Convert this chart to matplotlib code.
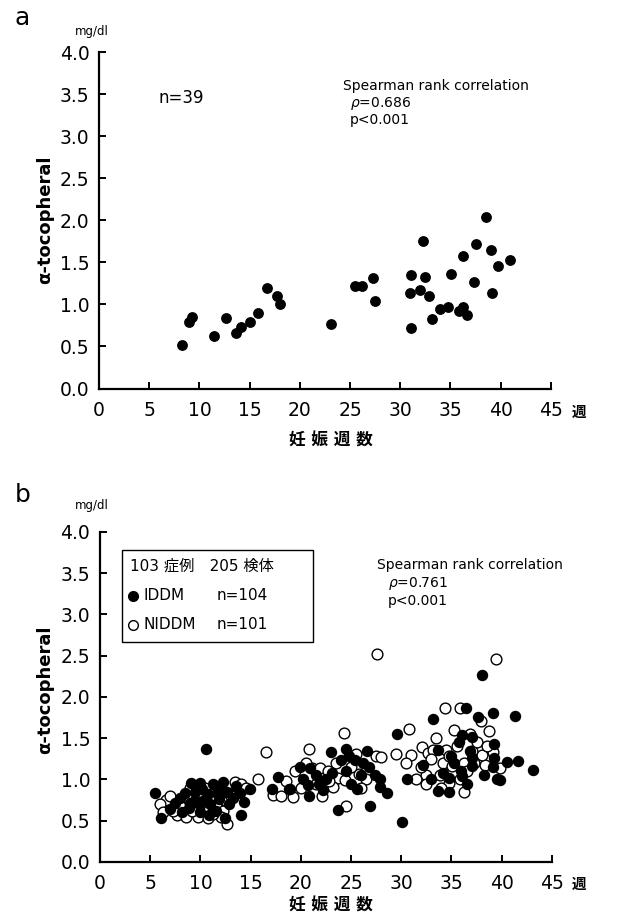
import matplotlib
matplotlib.use('Agg')
import matplotlib.pyplot as plt
from matplotlib.patches import Rectangle

plt.rcParams['font.family'] = ['DejaVu Sans', 'Noto Sans CJK JP']

# パネルa: 妊娠週数 vs α-tocopherol (n=39)
a_weeks = [8.3, 9.0, 9.3, 11.45, 12.6, 13.65, 14.1, 15.0, 15.8, 16.7, 17.7, 18.0,
           23.1, 25.5, 26.2, 27.3, 27.5, 31.1, 31.0, 31.1, 32.0, 32.3, 32.5, 32.9,
           33.2, 34.8, 35.1, 35.8, 36.2, 36.6, 36.2, 37.3, 37.5, 38.5, 39.0, 39.1,
           39.7, 40.9, 34.0]
a_vals = [0.52, 0.79, 0.85, 0.62, 0.84, 0.66, 0.73, 0.79, 0.90, 1.20, 1.10, 1.00,
          0.77, 1.22, 1.22, 1.31, 1.04, 0.72, 1.13, 1.35, 1.17, 1.75, 1.32, 1.10,
          0.83, 0.97, 1.36, 0.92, 0.97, 0.87, 1.58, 1.27, 1.72, 2.04, 1.65, 1.13,
          1.46, 1.53, 0.95]

# パネルb: IDDM (黒丸)
iddm_weeks = [10.6, 5.5, 6.1, 9.1, 9.95, 8.5, 7.0, 8.9, 9.95, 10.4, 11.3, 12.2,
              11.6, 12.6, 10.9, 12.4, 13.9, 14.3, 14.0, 14.9, 17.7, 17.1, 18.8, 9.45,
              7.5, 8.0, 9.5, 10.2, 10.8, 11.0, 11.8, 12.0, 13.2, 13.5, 8.2, 10.0,
              11.5, 12.8, 9.0,
              23.0, 24.5, 26.6, 26.9, 23.7, 28.6, 27.9, 27.4, 25.6, 26.0, 25.4, 26.2,
              24.0, 24.5, 23.1, 20.9, 19.9, 20.2, 20.7, 22.2, 20.8, 18.9, 27.9, 29.6,
              30.6, 30.1, 21.5, 22.5, 25.0, 26.8, 24.8, 21.8,
              38.0, 36.4, 37.6, 39.1, 41.3, 33.2, 35.7, 36.0, 37.0, 39.2, 33.7, 35.0,
              37.0, 39.2, 40.5, 41.6, 43.1, 32.2, 34.2, 35.9, 37.0, 39.1, 34.8, 36.0,
              39.5, 39.8, 33.7, 34.8, 35.3, 36.5, 38.2, 33.0, 36.8]
iddm_vals = [1.37, 0.83, 0.53, 0.96, 0.96, 0.83, 0.64, 0.65, 0.69, 0.75, 0.95, 0.97,
             0.83, 0.85, 0.57, 0.53, 0.83, 0.73, 0.57, 0.89, 1.03, 0.88, 0.89, 0.75,
             0.72, 0.78, 0.85, 0.88, 0.82, 0.70, 0.76, 0.90, 0.78, 0.92, 0.60, 0.60,
             0.62, 0.70, 0.72,
             1.33, 1.37, 1.34, 0.68, 0.63, 0.83, 0.91, 1.06, 0.89, 1.06, 1.24, 1.20,
             1.24, 1.10, 1.08, 1.14, 1.15, 1.00, 0.93, 0.87, 0.80, 0.89, 1.00, 1.55,
             1.00, 0.48, 1.05, 1.00, 0.95, 1.15, 1.28, 0.95,
             2.26, 1.87, 1.76, 1.80, 1.77, 1.73, 1.46, 1.54, 1.51, 1.43, 1.36, 1.28,
             1.26, 1.26, 1.21, 1.22, 1.12, 1.18, 1.08, 1.10, 1.16, 1.15, 1.02, 1.04,
             1.00, 0.99, 0.86, 0.85, 1.20, 0.95, 1.05, 1.00, 1.35]

# パネルb: NIDDM (白丸)
niddm_weeks = [16.5, 15.7, 17.2, 6.6, 7.6, 7.7, 8.6, 9.8, 10.8, 12.6, 13.4, 13.7,
               12.6, 11.6, 9.45, 10.3, 6.0, 7.0, 8.0, 8.8, 9.2, 10.5, 11.0, 11.8,
               12.2, 13.0, 14.0, 7.3, 10.0, 12.0, 14.5, 6.3, 9.0, 11.3,
               27.6, 24.3, 20.8, 25.5, 27.5, 28.0, 19.4, 21.1, 21.9, 22.7, 23.7, 24.4,
               25.8, 19.2, 22.1, 24.5, 23.2, 29.5, 30.8, 18.5, 20.0, 21.5, 22.8, 26.5,
               18.0, 20.5, 23.5, 25.0, 26.0,
               39.4, 34.4, 35.8, 32.1, 32.7, 35.3, 37.9, 38.7, 32.5, 32.5, 33.9, 34.8,
               36.2, 34.2, 35.1, 36.2, 37.0, 38.3, 39.1, 39.8, 33.2, 34.5, 31.0, 33.0,
               35.5, 36.5, 37.5, 38.0, 31.5, 34.0, 35.8, 37.2, 33.5, 36.8, 30.5, 38.5,
               34.8, 32.0]
niddm_vals = [1.33, 1.00, 0.81, 0.75, 0.73, 0.57, 0.54, 0.55, 0.53, 0.46, 0.97, 0.85,
              0.73, 0.65, 0.85, 0.65, 0.70, 0.80, 0.68, 0.78, 0.62, 0.90, 0.78, 0.88,
              0.62, 0.80, 0.95, 0.62, 0.80, 0.55, 0.90, 0.60, 0.90, 0.58,
              2.52, 1.56, 1.37, 1.31, 1.28, 1.27, 1.10, 1.14, 1.14, 1.10, 1.02, 0.99,
              1.07, 0.79, 0.80, 0.68, 0.91, 1.31, 1.61, 0.98, 0.90, 0.95, 0.98, 1.00,
              0.80, 1.20, 1.20, 1.15, 0.90,
              2.46, 1.87, 1.86, 1.39, 1.32, 1.60, 1.71, 1.59, 1.06, 0.94, 1.06, 0.96,
              0.85, 1.20, 1.16, 1.20, 1.34, 1.18, 1.33, 1.14, 1.36, 1.36, 1.30, 1.25,
              1.40, 1.10, 1.45, 1.30, 1.00, 0.90, 1.00, 1.20, 1.50, 1.55, 1.20, 1.40,
              1.28, 1.15]

x_ticks = [0, 5, 10, 15, 20, 25, 30, 35, 40, 45]
y_ticks = [0.0, 0.5, 1.0, 1.5, 2.0, 2.5, 3.0, 3.5, 4.0]


def setup_axes(ax):
    ax.set_xlim(0, 45)
    ax.set_ylim(0, 4.0)
    ax.set_xticks(x_ticks)
    ax.set_yticks(y_ticks)
    ax.set_yticklabels([f'{v:.1f}' for v in y_ticks])
    for s in ['top', 'right']:
        ax.spines[s].set_visible(False)
    for s in ['left', 'bottom']:
        ax.spines[s].set_linewidth(1.6)
        ax.spines[s].set_color('black')
    ax.tick_params(direction='in', length=5, width=1.4, labelsize=13.5)
    ax.tick_params(axis='x', pad=9)
    ax.tick_params(axis='y', pad=7)


fig = plt.figure(figsize=(6.19, 9.22), dpi=100)

# --- a ---
ax1 = fig.add_axes([0.160, 0.5786, 0.730, 0.365])
setup_axes(ax1)
ax1.scatter(a_weeks, a_vals, s=46, c='black', edgecolors='black', zorder=3)
ax1.text(0.131, 0.863, 'n=39', transform=ax1.transAxes, fontsize=12, va='center')
ax1.text(0.540, 0.899, 'Spearman rank correlation', transform=ax1.transAxes,
         fontsize=10, va='center')
ax1.text(0.555, 0.848, r'$\rho$=0.686', transform=ax1.transAxes, fontsize=10, va='center')
ax1.text(0.555, 0.798, 'p<0.001', transform=ax1.transAxes, fontsize=10, va='center')

# --- b ---
ax2 = fig.add_axes([0.1616, 0.0651, 0.730, 0.358])
setup_axes(ax2)
ax2.scatter(niddm_weeks, niddm_vals, s=60, facecolors='white', edgecolors='black',
            linewidths=1.0, zorder=3)
ax2.scatter(iddm_weeks, iddm_vals, s=52, c='black', edgecolors='black', zorder=4)

ax2.add_patch(Rectangle((0.049, 0.667), 0.422, 0.278, transform=ax2.transAxes,
                        fill=False, edgecolor='black', linewidth=1.0, clip_on=False))
ax2.text(0.066, 0.897, '103 症例　205 検体', transform=ax2.transAxes, fontsize=11, va='center')
ax2.plot([0.074], [0.806], 'o', color='black', markersize=7, transform=ax2.transAxes,
         clip_on=False)
ax2.plot([0.074], [0.718], 'o', mfc='white', mec='black', markersize=7, mew=1.0,
         transform=ax2.transAxes, clip_on=False)
ax2.text(0.097, 0.806, 'IDDM', transform=ax2.transAxes, fontsize=11, va='center')
ax2.text(0.097, 0.718, 'NIDDM', transform=ax2.transAxes, fontsize=11, va='center')
ax2.text(0.257, 0.806, 'n=104', transform=ax2.transAxes, fontsize=11, va='center')
ax2.text(0.257, 0.718, 'n=101', transform=ax2.transAxes, fontsize=11, va='center')

ax2.text(0.613, 0.900, 'Spearman rank correlation', transform=ax2.transAxes,
         fontsize=10, va='center')
ax2.text(0.637, 0.845, r'$\rho$=0.761', transform=ax2.transAxes, fontsize=10, va='center')
ax2.text(0.637, 0.791, 'p<0.001', transform=ax2.transAxes, fontsize=10, va='center')

# 共通の文字
W, H = 619, 922
for (lab, ly, mg_y, ycen, xl_y, wk_y) in [('a', 18, 31, 220, 441, 412),
                                          ('b', 495, 506, 690, 906, 884)]:
    fig.text(15 / W, 1 - ly / H, lab, fontsize=18, va='center', ha='left')
    fig.text(75 / W, 1 - mg_y / H, 'mg/dl', fontsize=8.5, va='center', ha='left')
    fig.text(45 / W, 1 - ycen / H, 'α-tocopheral', fontsize=13, fontweight='bold',
             rotation=90, va='center', ha='center')
    fig.text(331 / W, 1 - xl_y / H, '妊 娠 週 数', fontsize=12, fontweight='bold',
             va='center', ha='center')
    fig.text(572 / W, 1 - wk_y / H, '週', fontsize=10.5, fontweight='bold',
             va='center', ha='left')

fig.savefig('out.png', dpi=100)
